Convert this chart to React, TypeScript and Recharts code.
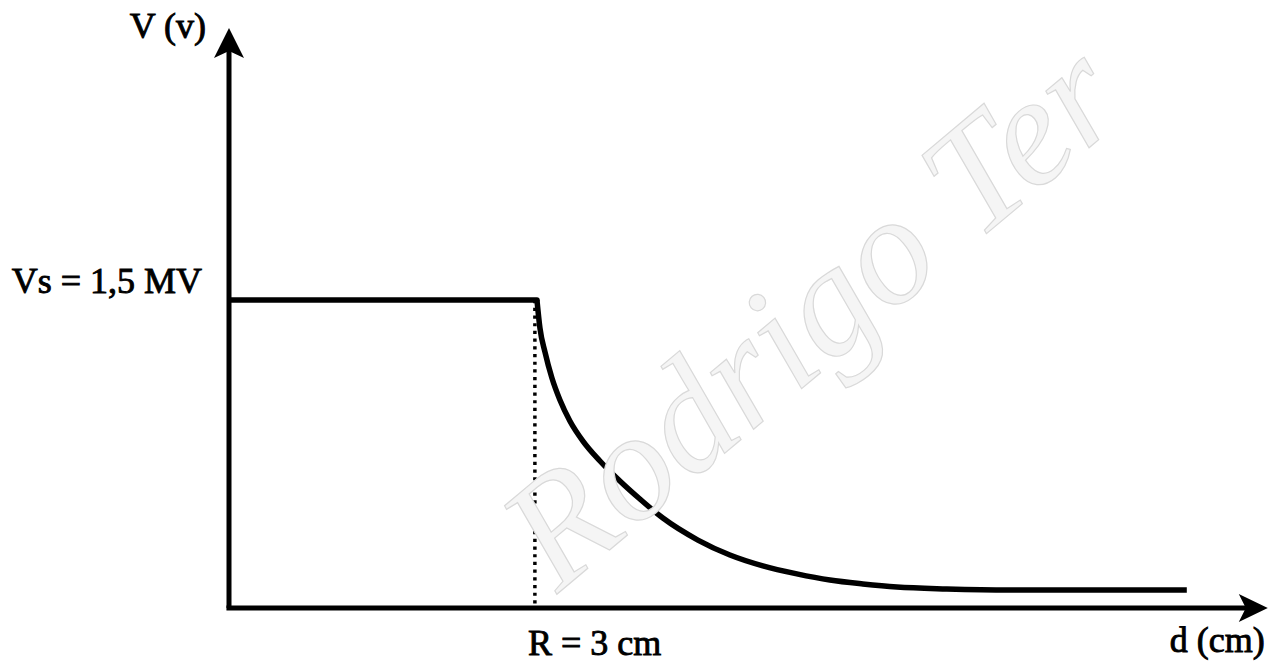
import { LineChart, Line, XAxis, YAxis, ReferenceLine, ReferenceDot } from "recharts";

// d in cm, V in MV
const plateauD = [0, 3];
const plateauV = [1.5, 1.5];

const decayD = [3.0, 3.029, 3.078, 3.146, 3.224, 3.321, 3.448, 3.614, 3.808, 4.003, 4.227, 4.568, 4.88, 5.201, 5.532, 5.854, 6.175, 6.506, 6.993, 7.607, 8.484, 9.331];
const decayV = [1.5, 1.364, 1.247, 1.12, 1.013, 0.911, 0.813, 0.716, 0.619, 0.531, 0.438, 0.331, 0.258, 0.205, 0.166, 0.136, 0.117, 0.102, 0.093, 0.088, 0.088, 0.088];

const radiusD = 2.98;
const surfaceV = 1.5;
const xTip = 10.12;
const yTip = 2.825;

const yTitle = "V (v)";
const xTitle = "d (cm)";
const surfaceLabel = "Vs = 1,5 MV";
const radiusLabel = "R = 3 cm";
const watermark = "Rodrigo Ter";

const plateau = plateauD.map((d, i) => ({ d, v: plateauV[i] }));
const decay = decayD.map((d, i) => ({ d, v: decayV[i] }));
const guide = [
  { d: radiusD, v: surfaceV },
  { d: radiusD, v: 0 },
];

const serif = "'Liberation Serif', 'Times New Roman', serif";

const labelText = (text: string, dx: number, dy: number, anchor: "start" | "end") => (p: any) => (
  <text x={p.cx + dx} y={p.cy + dy} textAnchor={anchor} fontFamily={serif} fontSize={36} fill="#000" stroke="#000" strokeWidth={0.9}>
    {text}
  </text>
);

const arrowUp = (p: any) => (
  <path d={`M${p.cx},${p.cy} L${p.cx + 15},${p.cy + 30} L${p.cx},${p.cy + 23} L${p.cx - 15},${p.cy + 30} Z`} fill="#000" />
);

const arrowRight = (p: any) => (
  <path d={`M${p.cx},${p.cy} L${p.cx - 29},${p.cy - 14} L${p.cx - 22},${p.cy} L${p.cx - 29},${p.cy + 14} Z`} fill="#000" />
);

const watermarkShape = (p: any) => (
  <text
    x={p.cx}
    y={p.cy}
    transform={`rotate(-40 ${p.cx} ${p.cy})`}
    fontFamily={serif}
    fontStyle="italic"
    fontSize={155}
    fill="#f5f5f5"
    stroke="#d9d9d9"
    strokeWidth={1.2}
  >
    {watermark}
  </text>
);

export default function App() {
  return (
    <div style={{ position: "absolute", left: 0, top: 0, background: "#fff" }}>
      <LineChart width={1277} height={664} margin={{ top: 12.6, right: 1, bottom: 56, left: 229 }}>
        <XAxis type="number" dataKey="d" domain={[0, 10.2]} hide allowDataOverflow />
        <YAxis type="number" dataKey="v" domain={[0, 2.9]} hide allowDataOverflow />

        <ReferenceDot x={3.2} y={0.07} r={0} ifOverflow="visible" shape={watermarkShape} />

        <ReferenceLine segment={[{ x: -0.025, y: 0 }, { x: 9.97, y: 0 }]} stroke="#000" strokeWidth={5} ifOverflow="visible" />
        <ReferenceLine segment={[{ x: 0, y: 0 }, { x: 0, y: 2.72 }]} stroke="#000" strokeWidth={5} ifOverflow="visible" />
        <ReferenceDot x={xTip} y={0} r={0} ifOverflow="visible" shape={arrowRight} />
        <ReferenceDot x={0} y={yTip} r={0} ifOverflow="visible" shape={arrowUp} />

        <Line
          data={guide}
          dataKey="v"
          type="linear"
          stroke="#000"
          strokeWidth={3.5}
          strokeDasharray="3.2 4.5"
          dot={false}
          activeDot={false}
          isAnimationActive={false}
        />
        <Line
          data={plateau}
          dataKey="v"
          type="linear"
          stroke="#000"
          strokeWidth={5.5}
          strokeLinecap="round"
          dot={false}
          activeDot={false}
          isAnimationActive={false}
        />
        <Line
          data={decay}
          dataKey="v"
          type="monotone"
          stroke="#000"
          strokeWidth={5.5}
          strokeLinejoin="round"
          dot={false}
          activeDot={false}
          isAnimationActive={false}
        />

        <ReferenceDot x={0} y={yTip} r={0} ifOverflow="visible" shape={labelText(yTitle, -23, 10, "end")} />
        <ReferenceDot x={0} y={surfaceV} r={0} ifOverflow="visible" shape={labelText(surfaceLabel, -27, -7, "end")} />
        <ReferenceDot x={3} y={0} r={0} ifOverflow="visible" shape={labelText(radiusLabel, -9, 47, "start")} />
        <ReferenceDot x={xTip} y={0} r={0} ifOverflow="visible" shape={labelText(xTitle, -3, 44, "end")} />
      </LineChart>
    </div>
  );
}
